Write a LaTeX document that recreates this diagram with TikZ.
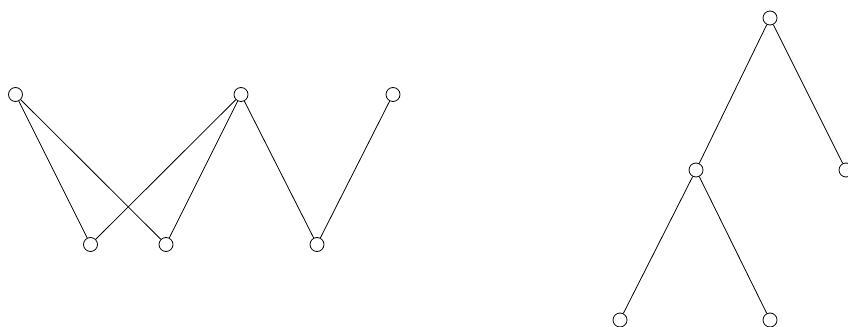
\documentclass[tikz,border=0pt]{standalone}
\usetikzlibrary{positioning}

\begin{document}
\begin{tikzpicture}[x=0.75pt, y=-0.75pt, line width=0.6pt,
      vtx/.style={draw,circle,inner sep=0pt,minimum size=10.5pt}]
    \useasboundingbox (0,0) rectangle (848,327);

    % bipartite graph
    \node[vtx] (u1) at (15.5,94.5) {};
    \node[vtx] (u2) at (241,94.5) {};
    \node[vtx] (u3) at (393,94.5) {};
    \node[vtx] (w1) at (90.5,244.5) {};
    \node[vtx] (w2) at (166,244.5) {};
    \node[vtx] (w3) at (317,244.5) {};

    \draw (u1)--(w1);
    \draw (u1)--(w2);
    \draw (u2)--(w1);
    \draw (u2)--(w2);
    \draw (u2)--(w3);
    \draw (u3)--(w3);

    % tree
    \node[vtx] (r)  at (770,18) {};
    \node[vtx] (a)  at (696,170) {};
    \node[vtx] (b)  at (846,170) {};
    \node[vtx] (a1) at (620,320) {};
    \node[vtx] (a2) at (770,320) {};

    \draw (r)--(a);
    \draw (r)--(b);
    \draw (a)--(a1);
    \draw (a)--(a2);
\end{tikzpicture}
\end{document}
